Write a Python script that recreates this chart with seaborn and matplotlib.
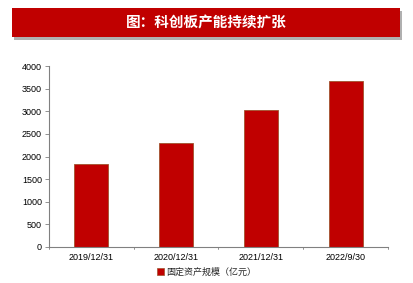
import matplotlib
matplotlib.use("Agg")
import matplotlib.pyplot as plt
import seaborn as sns
import pandas as pd
from matplotlib.patches import Rectangle, Patch

categories = ["2019/12/31", "2020/12/31", "2021/12/31", "2022/9/30"]
values = [1835, 2305, 3025, 3660]
series_name = "固定资产规模（亿元）"
title = "图：科创板产能持续扩张"

sns.set_theme(style="white")
plt.rcParams['font.family'] = ['Liberation Sans', 'Noto Sans CJK SC', 'DejaVu Sans']

df = pd.DataFrame({"cat": categories, "val": values})

W, H = 414, 283
fig = plt.figure(figsize=(W/100, H/100), dpi=100)
fig.patch.set_facecolor("white")

# Title banner
shadow = Rectangle((14/W, 1 - 40/H), 388/W, 29/H, transform=fig.transFigure,
                   facecolor="#b0b0b0", edgecolor="none", zorder=0)
fig.patches.append(shadow)
banner = Rectangle((12/W, 1 - 37/H), 388/W, 29/H, transform=fig.transFigure,
                   facecolor="#c00000", edgecolor="none", zorder=1)
fig.patches.append(banner)
fig.text(206/W, 1 - 22.5/H, title, color="white", fontsize=10.5, fontweight="bold",
         family=['Noto Sans CJK SC', 'DejaVu Sans'],
         ha="center", va="center", zorder=2)

ax = fig.add_axes([49/W, 1 - 247/H, (388-49)/W, (247-66)/H])
sns.barplot(data=df, x="cat", y="val", ax=ax, color="#c00000", width=0.4,
            saturation=1, edgecolor="#a0522d", linewidth=0.6)
ax.set_xlim(-0.5, 3.5)
ax.set_ylim(0, 4000)
ax.set_yticks(range(0, 4001, 500))
ax.set_xlabel("")
ax.set_ylabel("")
for s in ["top", "right"]:
    ax.spines[s].set_visible(False)
for s in ["left", "bottom"]:
    ax.spines[s].set_color("#808080")
    ax.spines[s].set_linewidth(0.8)
ax.tick_params(axis="y", left=True, length=3, width=0.6, color="#808080",
               labelsize=6.5, pad=2, labelcolor="black")
ax.tick_params(axis="x", bottom=False, length=0, labelsize=6.5, pad=4, labelcolor="black")
ax.set_xticks([0, 1, 2, 3])
ax.set_xticklabels(categories)
for b in [-0.5, 0.5, 1.5, 2.5, 3.5]:
    ax.plot([b, b], [0, -0.012], transform=ax.get_xaxis_transform(),
            color="#808080", lw=0.6, clip_on=False)

handle = Patch(facecolor="#c00000", edgecolor="#a0522d", linewidth=0.5)
fig.legend([handle], [series_name], loc="center", bbox_to_anchor=(207/W, 1 - 272/H),
           frameon=False, handlelength=0.7, handleheight=0.7,
           handletextpad=0.3, prop={'family': ['Noto Sans CJK SC'], 'size': 6.5})

fig.savefig("out.png", dpi=100)
